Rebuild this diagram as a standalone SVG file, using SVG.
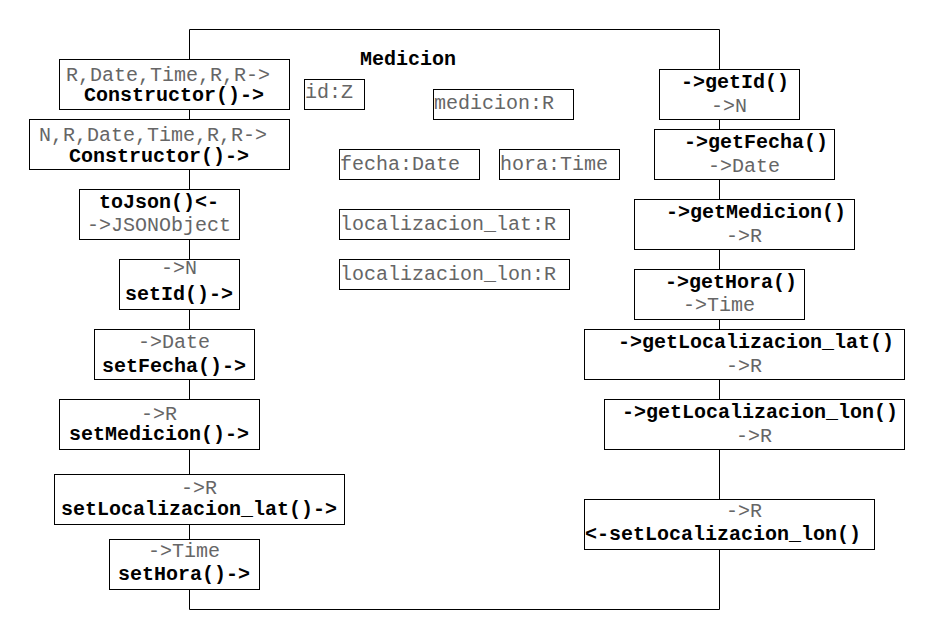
<svg xmlns="http://www.w3.org/2000/svg" width="926" height="631" viewBox="0 0 926 631">
<style>
.box{fill:#fff;stroke:#000;stroke-width:1}
.t{font-family:"Liberation Mono","Courier New",monospace;font-size:20px}
.g{fill:#666}
.b{fill:#000;font-weight:bold}
.m{text-anchor:middle}
.conn{fill:none;stroke:#000;stroke-width:1}
</style>
<rect width="926" height="631" fill="#fff"/>
<g id="connectors">
<path class="conn" d="M189.5 609.5 V29.5 H719.5 V609.5 Z"/>
</g>
<g id="title"><text class="t b" x="360" y="65">Medicion</text></g>
<g id="attr-id"><rect class="box" x="304.5" y="79.5" width="60" height="30"/><text class="t g" x="305" y="98">id:Z</text></g>
<g id="attr-medicion"><rect class="box" x="433.5" y="89.5" width="140" height="30"/><text class="t g" x="434" y="109">medicion:R</text></g>
<g id="attr-fecha"><rect class="box" x="339.5" y="149.5" width="140" height="30"/><text class="t g" x="340" y="170">fecha:Date</text></g>
<g id="attr-hora"><rect class="box" x="499.5" y="149.5" width="120" height="30"/><text class="t g" x="500" y="170">hora:Time</text></g>
<g id="attr-lat"><rect class="box" x="339.5" y="209.5" width="230" height="30"/><text class="t g" x="340" y="230">localizacion_lat:R</text></g>
<g id="attr-lon"><rect class="box" x="339.5" y="259.5" width="230" height="30"/><text class="t g" x="340" y="280">localizacion_lon:R</text></g>

<g id="constructor1"><rect class="box" x="59.5" y="59.5" width="230" height="50"/><text class="t g" x="66" y="81">R,Date,Time,R,R-&gt;</text><text class="t b m" x="174" y="101">Constructor()-&gt;</text></g>
<g id="constructor2"><rect class="box" x="29.5" y="119.5" width="260" height="50"/><text class="t g" x="39" y="141">N,R,Date,Time,R,R-&gt;</text><text class="t b m" x="159" y="162">Constructor()-&gt;</text></g>
<g id="toJson"><rect class="box" x="79.5" y="189.5" width="160" height="50"/><text class="t b m" x="159" y="208">toJson()&lt;-</text><text class="t g m" x="159" y="231">-&gt;JSONObject</text></g>
<g id="setId"><rect class="box" x="119.5" y="259.5" width="120" height="50"/><text class="t g m" x="179" y="274">-&gt;N</text><text class="t b m" x="179" y="300">setId()-&gt;</text></g>
<g id="setFecha"><rect class="box" x="94.5" y="329.5" width="160" height="50"/><text class="t g m" x="174" y="348">-&gt;Date</text><text class="t b m" x="174" y="372">setFecha()-&gt;</text></g>
<g id="setMedicion"><rect class="box" x="59.5" y="399.5" width="200" height="50"/><text class="t g m" x="159" y="420">-&gt;R</text><text class="t b m" x="159" y="440">setMedicion()-&gt;</text></g>
<g id="setLocalizacion_lat"><rect class="box" x="54.5" y="474.5" width="290" height="50"/><text class="t g m" x="199" y="494">-&gt;R</text><text class="t b m" x="199" y="515">setLocalizacion_lat()-&gt;</text></g>
<g id="setHora"><rect class="box" x="109.5" y="539.5" width="150" height="50"/><text class="t g m" x="184" y="557">-&gt;Time</text><text class="t b m" x="184" y="580">setHora()-&gt;</text></g>

<g id="getId"><rect class="box" x="659.5" y="69.5" width="140" height="50"/><text class="t b" x="681" y="88">-&gt;getId()</text><text class="t g m" x="729" y="112">-&gt;N</text></g>
<g id="getFecha"><rect class="box" x="654.5" y="129.5" width="180" height="50"/><text class="t b" x="684" y="148">-&gt;getFecha()</text><text class="t g m" x="744" y="172">-&gt;Date</text></g>
<g id="getMedicion"><rect class="box" x="634.5" y="199.5" width="220" height="50"/><text class="t b" x="666" y="218">-&gt;getMedicion()</text><text class="t g m" x="744" y="242">-&gt;R</text></g>
<g id="getHora"><rect class="box" x="634.5" y="269.5" width="170" height="50"/><text class="t b" x="665" y="288">-&gt;getHora()</text><text class="t g m" x="719" y="311">-&gt;Time</text></g>
<g id="getLocalizacion_lat"><rect class="box" x="584.5" y="329.5" width="320" height="50"/><text class="t b" x="618" y="348">-&gt;getLocalizacion_lat()</text><text class="t g m" x="744" y="372">-&gt;R</text></g>
<g id="getLocalizacion_lon"><rect class="box" x="604.5" y="399.5" width="300" height="50"/><text class="t b" x="622" y="418">-&gt;getLocalizacion_lon()</text><text class="t g m" x="754" y="442">-&gt;R</text></g>
<g id="setLocalizacion_lon"><rect class="box" x="584.5" y="499.5" width="290" height="50"/><text class="t g m" x="744" y="517">-&gt;R</text><text class="t b" x="585" y="540">&lt;-setLocalizacion_lon()</text></g>
</svg>
